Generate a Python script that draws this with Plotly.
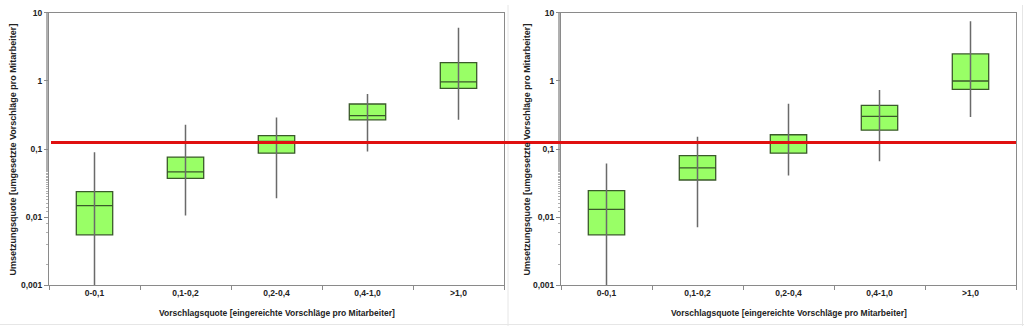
import plotly.graph_objects as go

categories = ["0-0,1", "0,1-0,2", "0,2-0,4", "0,4-1,0", ">1,0"]

# Left panel
left_lower = [0.001, 0.0106, 0.019, 0.092, 0.268]
left_q1 = [0.0055, 0.0371, 0.087, 0.268, 0.774]
left_median = [0.0148, 0.0461, 0.129, 0.309, 0.965]
left_q3 = [0.0237, 0.0762, 0.157, 0.458, 1.86]
left_upper = [0.0897, 0.228, 0.29, 0.643, 6.05]

# Right panel
right_lower = [0.001, 0.0071, 0.041, 0.0662, 0.296]
right_q1 = [0.0055, 0.0351, 0.087, 0.189, 0.75]
right_median = [0.013, 0.053, 0.124, 0.302, 0.997]
right_q3 = [0.0245, 0.0798, 0.162, 0.438, 2.49]
right_upper = [0.0614, 0.152, 0.462, 0.733, 7.5]

reference_value = 0.125

y_tickvals = [0.001, 0.01, 0.1, 1, 10]
y_ticktext = ["0,001", "0,01", "0,1", "1", "10"]

x_title = "Vorschlagsquote [eingereichte Vorschläge pro Mitarbeiter]"
y_title = "Umsetzungsquote [umgesetzte Vorschläge pro Mitarbeiter]"

W, H = 1024, 331
FONT = "Liberation Sans"
TXT = "#222222"
BOX_FILL = "#99ff66"
BOX_LINE = "#3a5a2a"
WHISKER = "#6a6a6a"
FRAME = "#8a8a8a"

fig = go.Figure()

panels = [
    (left_lower, left_q1, left_median, left_q3, left_upper, "x", "y"),
    (right_lower, right_q1, right_median, right_q3, right_upper, "x2", "y2"),
]

for lower, q1, med, q3, upper, xa, ya in panels:
    wx, wy = [], []
    for c, lo, hi in zip(categories, lower, upper):
        wx += [c, c, None]
        wy += [lo, hi, None]
    fig.add_trace(go.Scatter(x=wx, y=wy, mode="lines", xaxis=xa, yaxis=ya,
                             line=dict(color=WHISKER, width=1.5),
                             hoverinfo="skip", showlegend=False))
    fig.add_trace(go.Box(x=categories, q1=q1, median=med, q3=q3,
                         lowerfence=q1, upperfence=q3, xaxis=xa, yaxis=ya,
                         width=0.4, fillcolor=BOX_FILL,
                         line=dict(color=BOX_LINE, width=1.3),
                         boxpoints=False, hoverinfo="skip", showlegend=False))

# Reference line across both panels (on a hidden full-width x axis)
fig.add_trace(go.Scatter(x=[0, 1], y=[reference_value, reference_value], mode="lines",
                         xaxis="x3", yaxis="y", line=dict(color="#e01010", width=3),
                         hoverinfo="skip", showlegend=False, cliponaxis=False))

left_dom = [49 / W, 504 / W]
right_dom = [561 / W, 1016 / W]
y_dom = [1 - 289 / H, 1 - 8 / H]

xcommon = dict(type="category", range=[-0.5, 4.5], showline=True, mirror=True,
               linecolor=FRAME, linewidth=1, ticks="outside", ticklen=4,
               tickcolor=FRAME, tickson="boundaries", showgrid=False,
               tickfont=dict(family=FONT, size=8.5, color=TXT, weight="bold"),
               fixedrange=True)
ycommon = dict(type="log", range=[-3, 1], showline=True, mirror=True,
               linecolor=FRAME, linewidth=1, ticks="outside", ticklen=4,
               tickcolor=FRAME, tickvals=y_tickvals, ticktext=y_ticktext,
               showgrid=False, zeroline=False,
               minor=dict(ticks="outside", ticklen=2, tickcolor="#b0b0b0", showgrid=False),
               tickfont=dict(family=FONT, size=8.5, color=TXT, weight="bold"),
               fixedrange=True)

fig.update_layout(
    width=W, height=H,
    margin=dict(l=0, r=0, t=0, b=0),
    paper_bgcolor="white", plot_bgcolor="rgba(0,0,0,0)",
    xaxis=dict(domain=left_dom, anchor="y", **xcommon),
    yaxis=dict(domain=y_dom, anchor="x", **ycommon),
    xaxis2=dict(domain=right_dom, anchor="y2", **xcommon),
    yaxis2=dict(domain=y_dom, anchor="x2", **ycommon),
    xaxis3=dict(domain=[51 / W, 1016 / W], anchor="y", range=[0, 1], visible=False,
                showgrid=False, zeroline=False, fixedrange=True),
)

# Axis titles as annotations
for cx in [(49 + 504) / 2 / W, (561 + 1016) / 2 / W]:
    fig.add_annotation(text=x_title, x=cx, y=1 - 318 / H, xref="paper", yref="paper",
                       showarrow=False, xanchor="center", yanchor="middle",
                       font=dict(family=FONT, size=8.5, color=TXT, weight="bold"))
for cx in [13 / W, 527 / W]:
    fig.add_annotation(text=y_title, x=cx, y=1 - 149 / H, xref="paper", yref="paper",
                       showarrow=False, textangle=-90, xanchor="center", yanchor="middle",
                       font=dict(family=FONT, size=9, color=TXT, weight="bold"))

# Faint image frame lines
fig.add_shape(type="line", xref="paper", yref="paper", x0=508 / W, x1=508 / W, y0=0, y1=1,
              line=dict(color="#e6e6e6", width=1), layer="below")
fig.add_shape(type="line", xref="paper", yref="paper", x0=1022.5 / W, x1=1022.5 / W, y0=0, y1=1,
              line=dict(color="#e6e6e6", width=1), layer="below")
fig.add_shape(type="line", xref="paper", yref="paper", x0=0, x1=1, y0=1.5 / H, y1=1.5 / H,
              line=dict(color="#e6e6e6", width=1), layer="below")

fig.write_html("out.html")
